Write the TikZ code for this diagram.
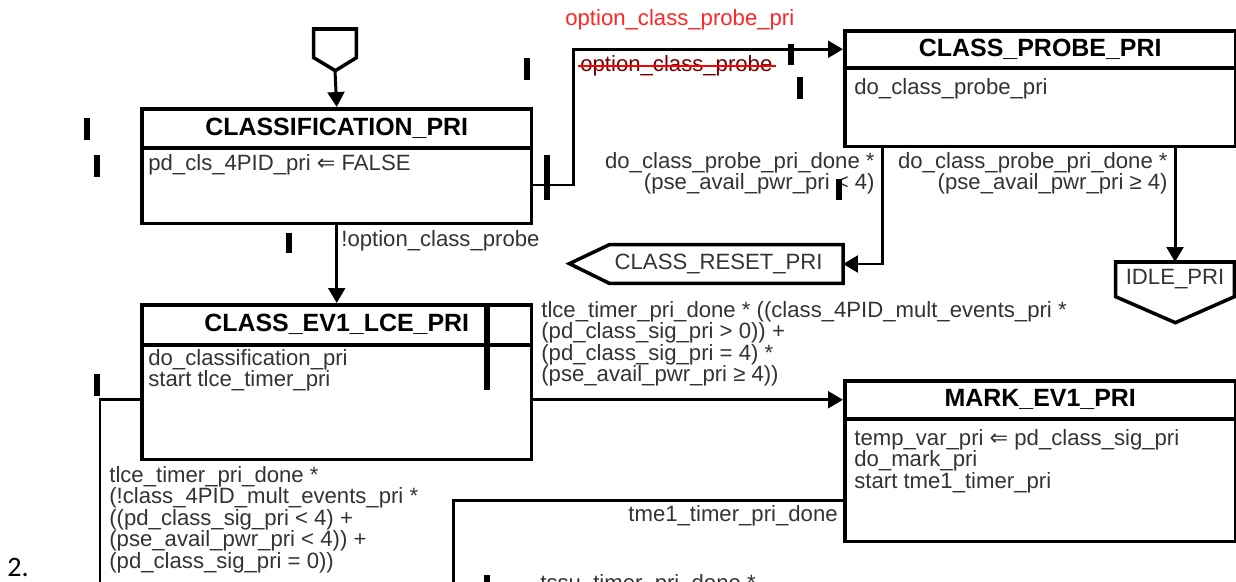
\documentclass[tikz,border=0pt]{standalone}
\usepackage{fontspec}
\setmainfont{Liberation Sans}
\newfontfamily\symfont{DejaVu Sans}
\newfontfamily\notefont{Carlito}
\usepackage{tikz}
\usetikzlibrary{arrows.meta,positioning,calc}
\colorlet{txt}{black!80}

\begin{document}
\begin{tikzpicture}[
  x=0.02cm, y=-0.02cm,
  statebox/.style={draw, line width=2pt, anchor=north west, inner sep=0pt},
  headbox/.style={draw, line width=2pt, anchor=north, inner sep=0pt, font=\fontsize{14.2}{15}\selectfont\bfseries},
  actions/.style={anchor=north west, align=left, inner sep=0pt, text=txt, font=\fontsize{12.6}{12.2}\selectfont},
  guard/.style={align=left, inner sep=0pt, text=txt, font=\fontsize{12.6}{12.2}\selectfont},
  portbox/.style={inner sep=0pt, text=txt, font=\fontsize{12.6}{12.2}\selectfont},
  outline/.style={line width=2pt, line join=miter},
  arr/.style={-{Triangle[length=8.5pt,width=9.5pt]}, line width=1.7pt},
  wire/.style={line width=1.7pt},
  chgbar/.style={line width=3pt}
]
  \fill[white] (0,0) rectangle (1236,581);
  \useasboundingbox (0,0) rectangle (1236,581);

  \node[statebox, minimum width=7.8cm, minimum height=2.3cm] (clsf) at (140,107) {};
  \node[headbox, minimum width=7.8cm, minimum height=0.78cm] (clsfhd) at (clsf.north) {CLASSIFICATION\_PRI};
  \node[actions] (clsfact) at (148,154) {pd\_cls\_4PID\_pri {\symfont ⇐} FALSE};

  \node[statebox, minimum width=7.82cm, minimum height=2.32cm] (probe) at (843,29) {};
  \node[headbox, minimum width=7.82cm, minimum height=0.74cm] (probehd) at (probe.north) {CLASS\_PROBE\_PRI};
  \node[actions] (probeact) at (854,78) {do\_class\_probe\_pri};

  \node[statebox, minimum width=7.8cm, minimum height=3.1cm] (ev1) at (140,303) {};
  \node[headbox, minimum width=7.8cm, minimum height=0.8cm] (ev1hd) at (ev1.north) {CLASS\_EV1\_LCE\_PRI};
  \node[actions] (ev1act) at (148,349) {do\_classification\_pri\\start tlce\_timer\_pri};

  \node[statebox, minimum width=7.82cm, minimum height=3.22cm] (mark) at (843,379) {};
  \node[headbox, minimum width=7.82cm, minimum height=0.76cm] (markhd) at (mark.north) {MARK\_EV1\_PRI};
  \node[actions] (markact) at (854,429) {temp\_var\_pri {\symfont ⇐} pd\_class\_sig\_pri\\do\_mark\_pri\\start tme1\_timer\_pri};

  \node[inner sep=0pt, minimum width=0.84cm, minimum height=0.56cm, anchor=north] (entry) at (335,29) {};
  \draw[outline] (entry.south west) -- (entry.north west) -- (entry.north east) -- (entry.south east) -- ++(-21,13) -- cycle;
  \coordinate (entrytip) at ($(entry.south)+(0,13)$);

  \node[portbox, text width=4.46cm, inner xsep=0.1cm, align=left, minimum height=0.76cm, anchor=east] (reset) at (843,264) {CLASS\_RESET\_PRI};
  \draw[outline] (reset.north east) -- (reset.north west) -- ++(-40,19) -- (reset.south west) -- (reset.south east) -- cycle;

  \node[portbox, minimum width=2.36cm, minimum height=0.68cm, anchor=north] (idle) at (1175,262) {IDLE\_PRI};
  \draw[outline] (idle.south west) -- (idle.north west) -- (idle.north east) -- (idle.south east) -- ++(-59,26) -- cycle;

  \coordinate (ev1exit) at (100,600);
  \coordinate (markexit) at (453,600);

  \draw[arr] (entrytip) -- (clsf.north);
  \draw[arr] (clsf.south) -- (ev1.north);
  \draw[arr] ($(clsf.north east)+(0,78)$) -- ++(40,0) |- (probehd.west);
  \draw[arr] ($(probe.south west)+(39,0)$) |- (reset.east);
  \draw[arr] (idle.north |- probe.south) -- (idle.north);
  \draw[arr] (ev1.east |- markhd.west) -- (markhd.west);
  \draw[wire] (ev1.west |- markhd.west) -| (ev1exit);
  \draw[wire] ($(mark.south west)+(0,-43)$) -| (markexit);

  \node[guard, anchor=west, text=red!85] (optpri) at (565,20) {option\_class\_probe\_pri};
  \node[guard, anchor=west, text=red!45!black] (optold) at (580,66) {option\_class\_probe};
  \draw[red, line width=1.2pt] ($(optold.west)+(-2,0)$) -- ($(optold.east)+(3,0)$);
  \node[guard, anchor=west] (notopt) at (341,241) {!option\_class\_probe};
  \node[guard, anchor=north east, align=right] (lowpwr) at (875,152) {do\_class\_probe\_pri\_done *\\(pse\_avail\_pwr\_pri < 4)};
  \node[guard, anchor=north east, align=right] (okpwr) at (1168,152) {do\_class\_probe\_pri\_done *\\(pse\_avail\_pwr\_pri ≥ 4)};
  \node[guard, anchor=north west] (tomark) at (541,301) {tlce\_timer\_pri\_done * ((class\_4PID\_mult\_events\_pri *\\(pd\_class\_sig\_pri > 0)) +\\(pd\_class\_sig\_pri = 4) *\\(pse\_avail\_pwr\_pri ≥ 4))};
  \node[guard, anchor=north west] (toexit) at (109,466) {tlce\_timer\_pri\_done *\\(!class\_4PID\_mult\_events\_pri *\\((pd\_class\_sig\_pri < 4) +\\(pse\_avail\_pwr\_pri < 4)) +\\(pd\_class\_sig\_pri = 0))};
  \node[guard, anchor=east] (tme1) at (838,516) {tme1\_timer\_pri\_done};
  \node[guard, anchor=north west] (tssu) at (540,574) {tssu\_timer\_pri\_done *};
  \node[anchor=west, inner sep=0pt, font=\notefont\fontsize{16}{18}\selectfont] (itemno) at (7,567) {2.};

  \foreach \x/\ya/\yb in {527/58/80, 87/118/140, 97/155/177, 547/155/200, 289/233/253,
    791/44/65, 800/77/99, 839/179/200, 487/303/390, 97/374/396, 487/575/590}
    \draw[chgbar] (\x,\ya) -- (\x,\yb);
\end{tikzpicture}
\end{document}
